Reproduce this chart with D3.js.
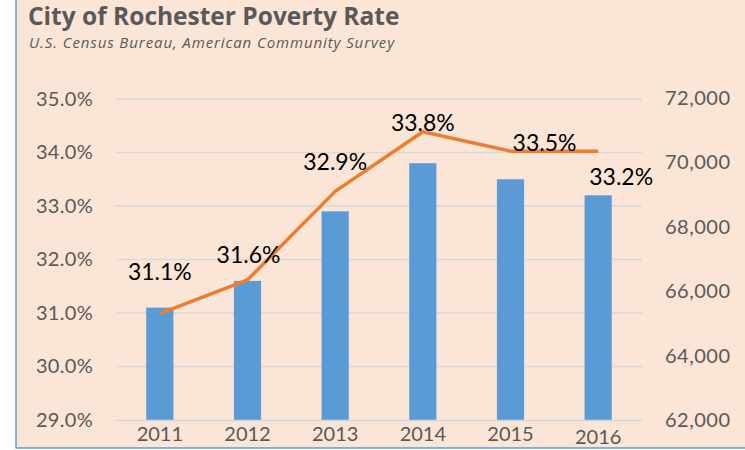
<!DOCTYPE html>
<html>
<head>
<meta charset="utf-8">
<script src="https://cdn.jsdelivr.net/npm/d3@7"></script>
<style>
  html, body { margin: 0; padding: 0; background: #fff; }
  svg { display: block; font-family: Lato, "Open Sans", sans-serif; }
</style>
</head>
<body>
<svg id="chart" width="745" height="450"></svg>
<script>
// data
const years = ["2011", "2012", "2013", "2014", "2015", "2016"];
const rates = [31.1, 31.6, 32.9, 33.8, 33.5, 33.2];            // poverty rate, %
const people = [65300, 66350, 69100, 70950, 70350, 70350];     // right axis line
const leftTicks = [29, 30, 31, 32, 33, 34, 35];
const rightTicks = [62000, 64000, 66000, 68000, 70000, 72000];

// label nudges (px) so the labels sit where the original put them
const labelDx = [0, 1, 0, 0, 34, 23];
const labelDy = [-36, -26, -49, -40, -36, -18];

const svg = d3.select("#chart");
const W = +svg.attr("width"), H = +svg.attr("height");

// panel
svg.append("rect").attr("x", 16).attr("y", 0).attr("width", W - 16).attr("height", 448)
  .attr("fill", "#FBE5D6");
svg.append("line").attr("x1", 16).attr("x2", 16).attr("y1", 0).attr("y2", 448.5)
  .attr("stroke", "#5B9BD5").attr("stroke-width", 1.5);
svg.append("line").attr("x1", 16).attr("x2", W).attr("y1", 448).attr("y2", 448)
  .attr("stroke", "#5B9BD5").attr("stroke-width", 1.5);

// titles
svg.append("text").attr("x", 28).attr("y", 25)
  .attr("font-family", "Open Sans")
  .attr("font-size", 24.5).attr("font-weight", "bold").attr("fill", "#595959")
  .text("City of Rochester Poverty Rate");
svg.append("text").attr("x", 29).attr("y", 48)
  .attr("font-family", "Open Sans")
  .attr("font-size", 15).attr("letter-spacing", 0.9).attr("font-style", "italic").attr("fill", "#595959")
  .text("U.S. Census Bureau, American Community Survey");

// scales
const x = d3.scaleBand().domain(years).range([116, 642]).paddingInner(0.69).paddingOuter(0.345);
const yL = d3.scaleLinear().domain([29, 35]).range([420, 99]);
const yR = d3.scaleLinear().domain([62000, 72000]).range([420, 98]);

// gridlines
svg.append("g").selectAll("line").data(leftTicks.slice(1)).join("line")
  .attr("x1", 116).attr("x2", 642)
  .attr("y1", d => yL(d)).attr("y2", d => yL(d))
  .attr("stroke", "#D9D9D9").attr("stroke-width", 1.5);

// left axis
const axL = svg.append("g").attr("transform", "translate(116,0)")
  .call(d3.axisLeft(yL).tickValues(leftTicks).tickSize(0).tickPadding(23).tickFormat(d => d.toFixed(1) + "%"));
axL.select(".domain").remove();
axL.selectAll("text").attr("font-size", 20).attr("letter-spacing", 0.3).attr("fill", "#595959").attr("font-family", "Lato");

// right axis
const axR = svg.append("g").attr("transform", "translate(642,0)")
  .call(d3.axisRight(yR).tickValues(rightTicks).tickSize(0).tickPadding(23).tickFormat(d3.format(",")));
axR.select(".domain").remove();
axR.selectAll("text").attr("font-size", 20).attr("letter-spacing", 0.5).attr("fill", "#595959").attr("font-family", "Lato");

// bars
svg.append("g").selectAll("rect").data(rates).join("rect")
  .attr("x", (d, i) => x(years[i]))
  .attr("y", d => yL(d))
  .attr("width", x.bandwidth())
  .attr("height", d => yL(29) - yL(d))
  .attr("fill", "#5B9BD5");

// baseline
svg.append("line").attr("x1", 116).attr("x2", 642).attr("y1", 420.5).attr("y2", 420.5)
  .attr("stroke", "#D0D7E0").attr("stroke-width", 1.5);

// bottom axis
const axB = svg.append("g").attr("transform", "translate(0,420)")
  .call(d3.axisBottom(x).tickSize(0).tickPadding(7));
axB.select(".domain").remove();
axB.selectAll("text").attr("font-size", 20).attr("fill", "#595959").attr("font-family", "Lato")
  .attr("dy", (d, i) => i === 5 ? "0.85em" : "0.71em");

// line
const line = d3.line()
  .x((d, i) => x(years[i]) + x.bandwidth() / 2)
  .y(d => yR(d));
svg.append("path").datum(people)
  .attr("d", line)
  .attr("fill", "none")
  .attr("stroke", "#ED7D31")
  .attr("stroke-width", 3.5)
  .attr("stroke-linejoin", "round");

// value labels
svg.append("g").selectAll("text").data(rates).join("text")
  .attr("x", (d, i) => x(years[i]) + x.bandwidth() / 2 + labelDx[i])
  .attr("y", (d, i) => yL(d) + labelDy[i])
  .attr("dy", "0.35em")
  .attr("text-anchor", "middle")
  .attr("font-size", 23)
  .attr("fill", "#000")
  .text(d => d.toFixed(1) + "%");
</script>
</body>
</html>
